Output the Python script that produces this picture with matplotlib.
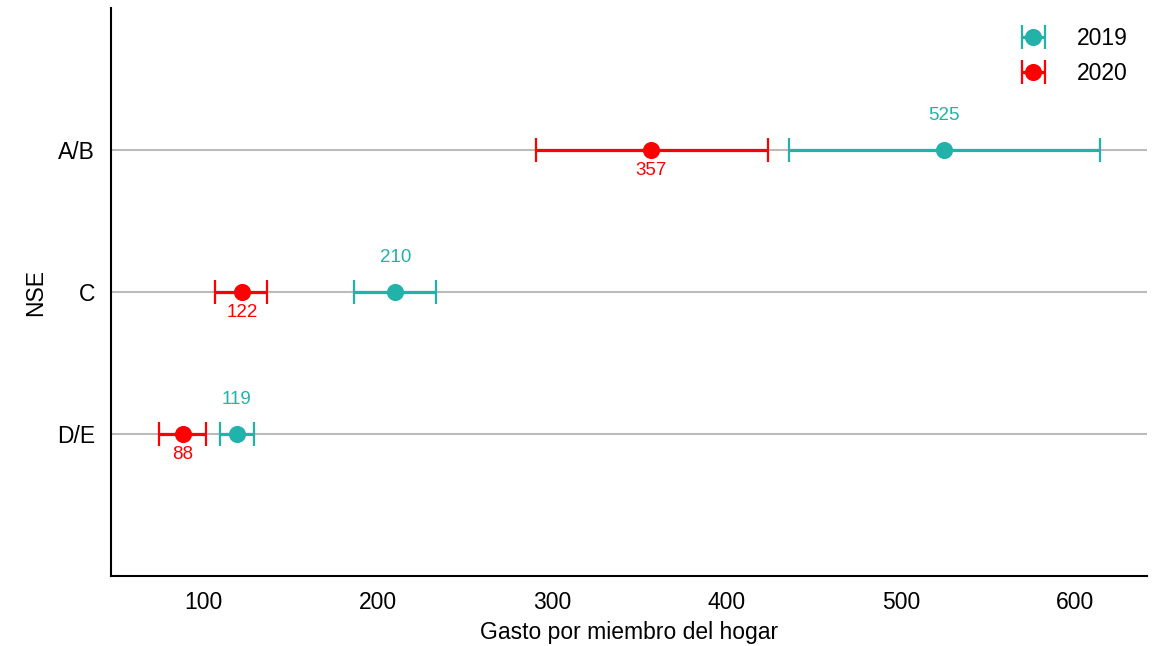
import matplotlib
matplotlib.use("Agg")
import matplotlib.pyplot as plt

categories = ["D/E", "C", "A/B"]
years = ["2019", "2020"]
mean_2019 = [119, 210, 525]
low_2019 = [109.5, 186.5, 436]
high_2019 = [129, 233.5, 614.5]
mean_2020 = [88, 122, 357]
low_2020 = [74.5, 106.5, 290.5]
high_2020 = [101.5, 136.5, 424]
colors = {"2019": "#22B2AA", "2020": "#FF0000"}

plt.rcParams['font.family'] = ['Liberation Sans', 'DejaVu Sans']

fig = plt.figure(figsize=(11.54, 6.46), dpi=100)
ax = fig.add_axes([111/1154, 1 - 576/646, (1147-111)/1154, (576-8)/646])

ypos = list(range(len(categories)))
for y in ypos:
    ax.axhline(y, color="#BBBBBB", lw=1.5, zorder=0)

series = [("2019", mean_2019, low_2019, high_2019, 25),
          ("2020", mean_2020, low_2020, high_2020, -15)]
for name, m, lo, hi, off in series:
    xerr = [[mv - l for mv, l in zip(m, lo)], [h - mv for mv, h in zip(m, hi)]]
    ax.errorbar(m, ypos, xerr=xerr, fmt='o', color=colors[name], ms=11.3,
                elinewidth=2.3, capsize=8.3, capthick=1.6, label=name, zorder=3)
    for mv, y in zip(m, ypos):
        ax.annotate(str(mv), (mv, y), xytext=(0, off), textcoords='offset points',
                    ha='center', va='center', color=colors[name], fontsize=13.5)

ax.set_xlim(46.9, 641.3)
ax.set_ylim(-1, 3)
ax.set_yticks(ypos)
ax.set_yticklabels(categories)
ax.set_xticks([100, 200, 300, 400, 500, 600])
ax.tick_params(axis='y', length=0, labelsize=16.5, pad=11.5)
ax.tick_params(axis='x', length=0, labelsize=16.5, pad=11)
ax.set_xlabel("Gasto por miembro del hogar", fontsize=16.5, labelpad=5)
ax.set_ylabel("NSE", fontsize=16.5, labelpad=7)
for s in ["top", "right"]:
    ax.spines[s].set_visible(False)
for s in ["left", "bottom"]:
    ax.spines[s].set_linewidth(1.5)
    ax.spines[s].set_color("black")

leg = ax.legend(loc='upper right', frameon=False, fontsize=16.5, handletextpad=0.9,
                labelspacing=0.5, bbox_to_anchor=(1.0, 1.0), borderaxespad=0.45)

fig.savefig("out.png", dpi=100)
